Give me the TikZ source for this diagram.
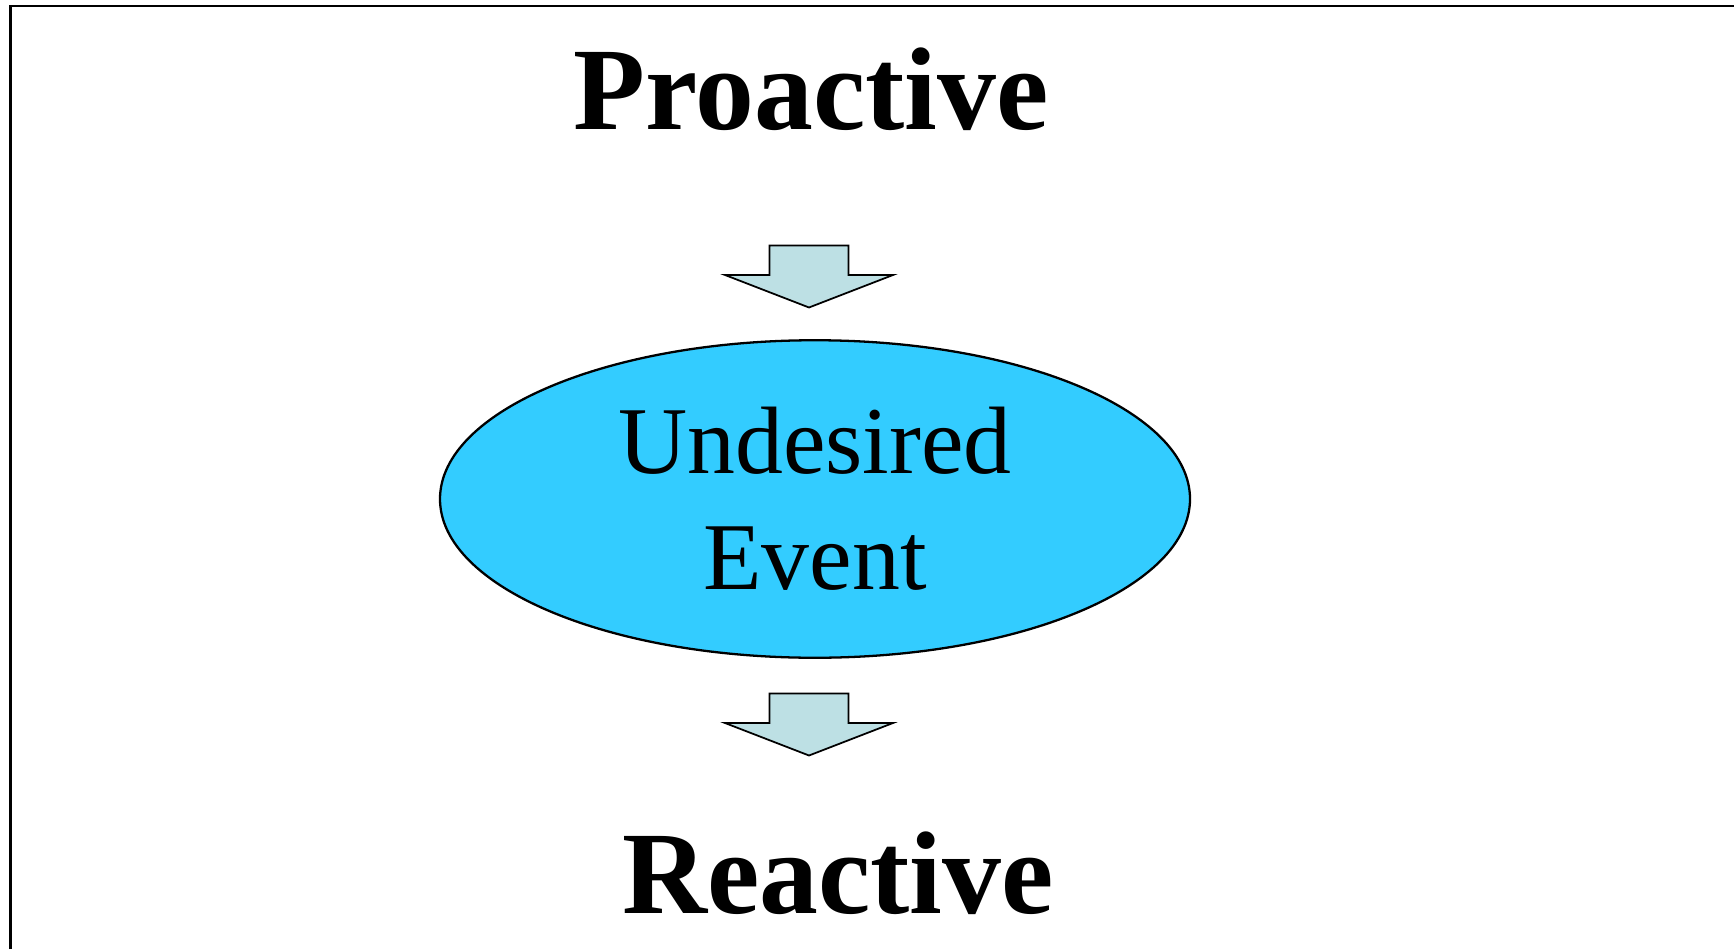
\documentclass[tikz,border=0pt]{standalone}
\usepackage{fontspec}
\setmainfont{Liberation Serif}
\usepackage{tikz}
\usetikzlibrary{shapes.geometric, positioning, calc}
\definecolor{evtblue}{RGB}{51,204,255}
\definecolor{arrfill}{RGB}{189,224,228}
\tikzset{
  title/.style={font=\fontsize{67}{80}\selectfont\bfseries, inner sep=0pt, anchor=base},
  event/.style={ellipse, draw=black, fill=evtblue, line width=1.3pt,
    minimum width=15cm, minimum height=6.35cm, inner sep=0pt,
    align=center, font=\fontsize{54.5}{66}\selectfont},
  downblock/.pic={
    \draw[fill=arrfill, line width=1pt, line join=miter]
      (-0.79,0) -- (0.79,0) -- (0.79,-0.59) -- (1.68,-0.59)
      -- (0,-1.24) -- (-1.68,-0.59) -- (-0.79,-0.59) -- cycle;
  }
}
\begin{document}
\begin{tikzpicture}
  \useasboundingbox (0,0) rectangle (34.68,18.98);
  % Frame (cut at right and bottom)
  \draw[line width=1.6pt] (0.21,0) -- (0.21,18.86) -- (34.68,18.86);

  % Titles
  \node[title] (pro) at (16.22,16.38) {Proactive};
  \node[title] (rea) at (16.76,0.71) {Reactive};

  % Event
  \node[event] (evt) at (16.3,9.0) {Undesired\\Event};

  % Block arrows
  \pic at (16.18,14.07) {downblock};
  \pic at (16.18,5.11) {downblock};
\end{tikzpicture}
\end{document}
